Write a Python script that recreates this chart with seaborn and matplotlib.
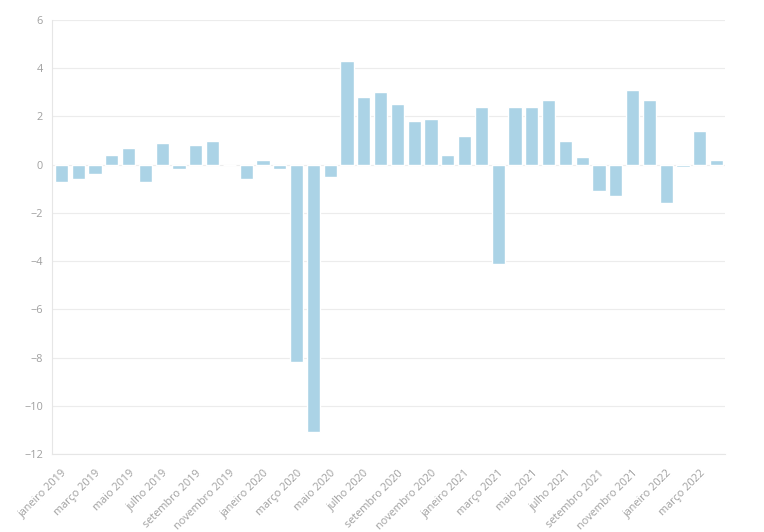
import matplotlib
matplotlib.use("Agg")
import matplotlib.pyplot as plt
import seaborn as sns
import pandas as pd

month_names = ["janeiro", "fevereiro", "março", "abril", "maio", "junho",
               "julho", "agosto", "setembro", "outubro", "novembro", "dezembro"]
years = [2019, 2020, 2021, 2022]
months = [f"{m} {y}" for y in years for m in month_names][:40]

values = [-0.7, -0.6, -0.4, 0.4, 0.7, -0.7, 0.9, -0.2, 0.8, 1.0,
          0.0, -0.6, 0.2, -0.2, -8.2, -11.1, -0.5, 4.3, 2.8, 3.0,
          2.5, 1.8, 1.9, 0.4, 1.2, 2.4, -4.1, 2.4, 2.4, 2.7,
          1.0, 0.3, -1.1, -1.3, 3.1, 2.7, -1.6, -0.1, 1.4, 0.2]

df = pd.DataFrame({"mes": months, "valor": values})

sns.set_theme(style="white")
plt.rcParams['font.family'] = ['Open Sans', 'DejaVu Sans']

fig = plt.figure(figsize=(7.64, 5.32), dpi=100)
ax = fig.add_axes([52/764, 1-454/532, (725-52)/764, (454-20)/532])

sns.barplot(data=df, x="mes", y="valor", order=months, color="#abd3e6",
            saturation=1, width=0.78, ax=ax, zorder=2)

ax.set_ylim(-12, 6)
ax.set_xlim(-0.56, 39.5)
ax.set_yticks(range(-12, 7, 2))
ax.set_xticks(range(len(months)))
ax.set_xticklabels([m if i % 2 == 0 else "" for i, m in enumerate(months)],
                   rotation=45, ha="right", rotation_mode="anchor")
ax.set_xlabel("")
ax.set_ylabel("")

ax.grid(axis="y", color="#ececec", linewidth=0.8, zorder=0)
for s in ["top", "right"]:
    ax.spines[s].set_visible(False)
for s in ["left", "bottom"]:
    ax.spines[s].set_color("#e6e6e6")
    ax.spines[s].set_linewidth(0.8)
ax.tick_params(axis="both", colors="#e6e6e6", labelcolor="#a0a0a0",
               labelsize=7.8, length=5, width=0.8, direction="out")
ax.tick_params(axis="x", pad=5)
ax.tick_params(axis="y", length=3)

fig.savefig("out.png", dpi=100, facecolor="white")
